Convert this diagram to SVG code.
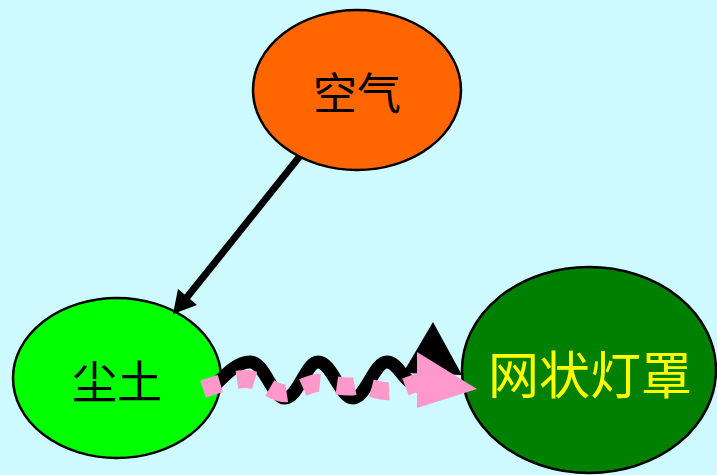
<svg xmlns="http://www.w3.org/2000/svg" width="717" height="475" viewBox="0 0 717 475">
<style>
.node{stroke:#000;stroke-width:2.5}
.lbl{font-family:"Noto Sans CJK SC","Noto Sans",sans-serif;text-anchor:middle;dominant-baseline:central}
</style>
<rect width="717" height="475" fill="#ccfaff"/>
<g id="node-air">
<ellipse class="node" cx="357" cy="90" rx="104" ry="80" fill="#ff6600"/>
<text class="lbl" x="357" y="91" font-size="44" fill="#000">空气</text>
</g>
<g id="node-dust">
<ellipse class="node" cx="117" cy="378" rx="104" ry="80" fill="#00ff00"/>
<text class="lbl" x="117" y="379" font-size="45" fill="#000">尘土</text>
</g>
<g id="node-mesh">
<ellipse class="node" cx="589" cy="370" rx="127" ry="103" fill="#008000"/>
<text class="lbl" x="590" y="372" font-size="51" fill="#ffff00">网状灯罩</text>
</g>
<g id="edges">
<line x1="300" y1="156" x2="184" y2="301" stroke="#000" stroke-width="7"/>
<polygon points="173,314 178,289 197,305" fill="#000"/>
<path d="M214,386 C228,372 238,362 250,362 C265,362 272,398 285,398 C298,398 306,362 318,362 C332,362 340,398 353,398 C366,398 374,362 387,362 C399,362 404,385 420,386" fill="none" stroke="#000" stroke-width="13"/>
<polygon points="403,373 433,322 462,375" fill="#000"/>
<path d="M203,389 C225,382 240,377 253,380 S275,395 287,393 S310,382 320,383 S345,388 355,386 S380,393 392,391 S412,383 425,381" fill="none" stroke="#ff99cc" stroke-width="18" stroke-dasharray="18 17"/>
<polygon points="417,352 477,389 417,408" fill="#ff99cc"/>
</g>
</svg>
